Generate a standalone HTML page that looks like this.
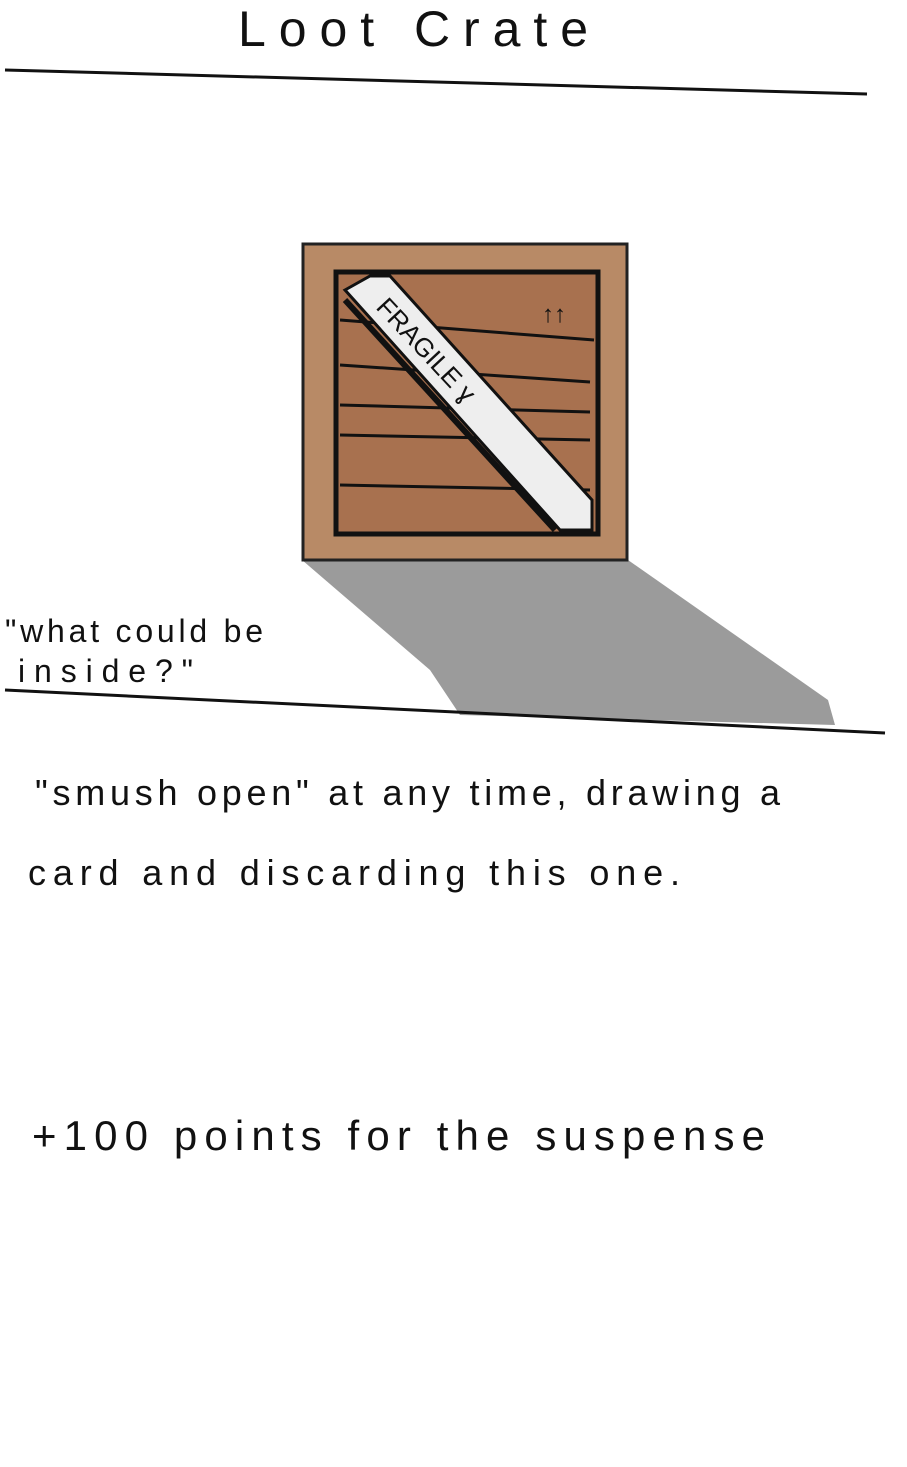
<!DOCTYPE html>
<html><head><meta charset="utf-8"><style>
html,body{margin:0;padding:0;background:#fff;}
svg{display:block}
text{font-family:"Liberation Sans",sans-serif;fill:#111;}
</style></head><body>
<svg width="907" height="1467" viewBox="0 0 907 1467">
<rect width="907" height="1467" fill="#fff"/>
<text x="238" y="46" font-size="50" textLength="350" lengthAdjust="spacing">Loot  Crate</text>
<path d="M5 70 L867 94" stroke="#111" stroke-width="3"/>
<g>
<polygon points="302,560 628,560 828,700 835,725 460,715 430,670" fill="#8a8a8a" opacity="0.85"/>
<rect x="303" y="244" width="324" height="316" fill="#b88a66" stroke="#222" stroke-width="3"/>
<rect x="336" y="272" width="262" height="262" fill="#a8714f" stroke="#111" stroke-width="5"/>
<g stroke="#111" stroke-width="3">
<path d="M340 320 L594 340"/><path d="M340 365 L590 382"/><path d="M340 405 L590 412"/><path d="M340 435 L590 440"/><path d="M340 485 L590 490"/>
</g>
<polygon points="345,290 370,276 390,276 592,500 592,530 560,530" fill="#eee" stroke="#111" stroke-width="3"/>
<path d="M345 300 L555 530" stroke="#111" stroke-width="6"/>
<text x="0" y="0" font-size="26" transform="translate(375,308) rotate(47)">FRAGILE ɣ</text>
<text x="542" y="322" font-size="24" font-weight="bold">↑↑</text>
</g>
<text x="5" y="642" font-size="32" textLength="258" lengthAdjust="spacing">"what could be</text>
<text x="18" y="682" font-size="32" textLength="175" lengthAdjust="spacing">inside?"</text>
<path d="M5 690 L885 733" stroke="#111" stroke-width="3"/>
<text x="35" y="805" font-size="36" textLength="745" lengthAdjust="spacing">"smush open" at any time, drawing a</text>
<text x="28" y="885" font-size="36" textLength="652" lengthAdjust="spacing">card and discarding this one.</text>
<text x="32" y="1150" font-size="42" textLength="733" lengthAdjust="spacing">+100 points for the suspense</text>
</svg>
</body></html>
